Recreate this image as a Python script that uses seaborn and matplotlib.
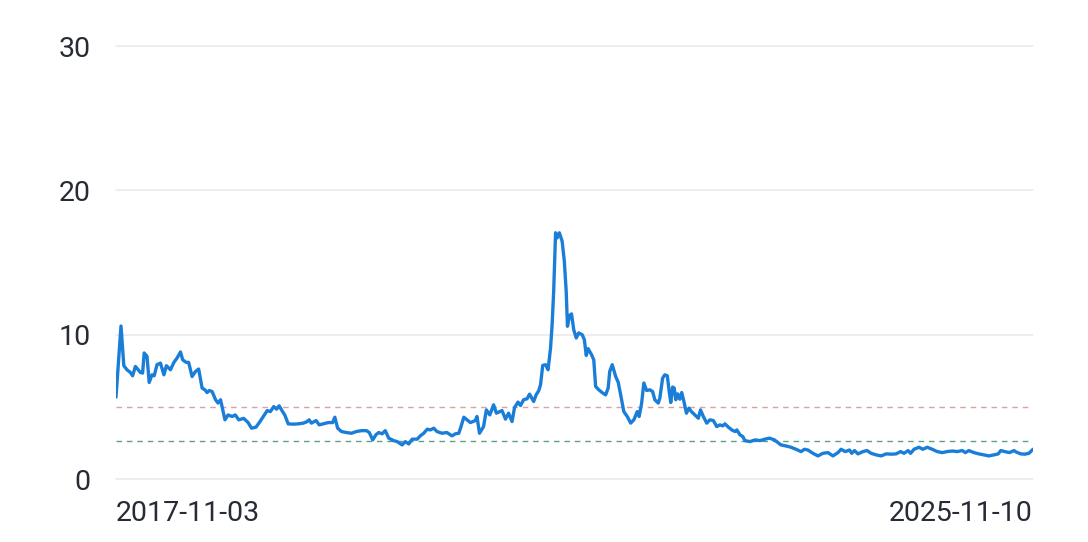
import numpy as np
import pandas as pd
import matplotlib
matplotlib.use("Agg")
import matplotlib.pyplot as plt
import seaborn as sns

start_date = "2017-11-03"
end_date = "2025-11-10"

# elapsed days since start_date
days = [0, 16, 25, 35, 46, 53, 62, 78, 85, 90, 99, 106, 115, 122, 131, 142, 153, 161, 174, 185,
        195, 206, 213, 224, 232, 243, 254, 264, 275, 284, 291, 298, 307, 318, 326, 334, 348, 358, 371, 381,
        392, 408, 422, 433, 447, 460, 472, 483, 493, 504, 513, 521, 532, 539, 550, 566, 582, 598, 609, 617,
        624, 639, 649, 662, 678, 692, 699, 708, 720, 736, 752, 768, 784, 800, 809, 820, 830, 839, 850, 860,
        871, 887, 898, 914, 924, 935, 946, 962, 972, 983, 994, 1004, 1015, 1025, 1041, 1057, 1073, 1084, 1095, 1102,
        1111, 1121, 1132, 1148, 1153, 1161, 1174, 1183, 1194, 1206, 1215, 1233, 1244, 1254, 1265, 1273, 1284, 1292, 1302, 1313,
        1321, 1334, 1342, 1350, 1356, 1363, 1372, 1380, 1388, 1393, 1398, 1404, 1409, 1416, 1425, 1432, 1438, 1442, 1449, 1455,
        1462, 1470, 1478, 1489, 1496, 1502, 1508, 1519, 1526, 1532, 1542, 1555, 1564, 1572, 1577, 1585, 1596, 1604, 1612, 1622,
        1633, 1644, 1654, 1665, 1671, 1679, 1686, 1695, 1705, 1714, 1721, 1732, 1737, 1746, 1753, 1761, 1767, 1772, 1778, 1783,
        1788, 1794, 1801, 1807, 1814, 1822, 1830, 1838, 1849, 1860, 1867, 1876, 1887, 1897, 1908, 1919, 1929, 1938, 1945, 1956,
        1967, 1977, 1983, 1993, 2002, 2009, 2025, 2041, 2057, 2073, 2087, 2103, 2124, 2140, 2156, 2172, 2188, 2199, 2210, 2226,
        2242, 2258, 2274, 2290, 2306, 2316, 2329, 2343, 2350, 2359, 2370, 2386, 2399, 2412, 2428, 2444, 2460, 2476, 2492, 2506,
        2517, 2530, 2538, 2549, 2565, 2577, 2591, 2607, 2623, 2639, 2655, 2671, 2687, 2703, 2713, 2724, 2740, 2756, 2772, 2788,
        2804, 2818, 2826, 2839, 2854, 2868, 2876, 2890, 2903, 2916, 2929]

values = [5.67, 10.6, 7.85, 7.57, 7.38, 7.15, 7.8, 7.38, 7.34, 8.73, 8.5, 6.69, 7.22, 7.15, 7.92, 8.03, 7.22, 7.85, 7.57, 8.08,
          8.38, 8.8, 8.26, 8.08, 8.08, 7.1, 7.45, 7.62, 6.3, 6.18, 5.99, 6.13, 6.06, 5.49, 5.26, 5.49, 4.1, 4.44, 4.33, 4.44,
          4.1, 4.2, 3.91, 3.52, 3.59, 3.98, 4.38, 4.74, 4.67, 5.02, 4.84, 5.07, 4.67, 4.44, 3.82, 3.8, 3.82, 3.87, 3.96, 4.1,
          3.87, 4.05, 3.75, 3.82, 3.91, 3.91, 4.28, 3.52, 3.29, 3.22, 3.17, 3.29, 3.35, 3.35, 3.22, 2.71, 3.06, 3.22, 3.13, 3.35,
          2.83, 2.66, 2.59, 2.36, 2.59, 2.43, 2.76, 2.76, 2.99, 3.17, 3.45, 3.4, 3.52, 3.29, 3.17, 3.22, 2.99, 3.13, 3.17, 3.63,
          4.28, 4.1, 3.91, 4.05, 4.33, 3.17, 3.63, 4.79, 4.44, 5.14, 4.56, 4.74, 4.15, 4.56, 3.98, 4.95, 5.33, 5.09, 5.49, 5.56,
          5.88, 5.37, 5.83, 6.11, 6.53, 7.87, 7.92, 7.57, 9.08, 10.69, 13.0, 17.06, 16.7, 17.06, 16.48, 15.09, 13.0, 10.58, 11.34, 11.44,
          10.35, 9.77, 10.12, 10.0, 9.65, 8.56, 9.03, 8.61, 8.26, 6.41, 6.18, 5.95, 5.83, 6.3, 7.45, 7.92, 7.1, 6.71, 5.83, 4.67,
          4.33, 3.87, 4.1, 4.67, 4.33, 5.26, 6.65, 6.13, 6.18, 6.06, 5.49, 5.26, 5.6, 6.99, 7.22, 7.15, 6.06, 5.3, 6.37, 6.3,
          5.49, 5.9, 5.53, 5.99, 5.37, 4.56, 4.91, 4.67, 4.44, 4.21, 4.79, 4.33, 3.87, 4.1, 4.05, 3.63, 3.75, 3.68, 3.82, 3.59,
          3.4, 3.29, 3.4, 3.06, 2.94, 2.66, 2.59, 2.71, 2.66, 2.76, 2.83, 2.71, 2.36, 2.29, 2.2, 2.06, 1.9, 2.06, 2.01, 1.78,
          1.6, 1.78, 1.83, 1.6, 1.83, 2.06, 1.9, 2.01, 1.78, 1.97, 1.74, 1.9, 1.97, 1.78, 1.67, 1.6, 1.74, 1.72, 1.74, 1.9,
          1.78, 1.97, 1.78, 2.06, 2.2, 2.06, 2.2, 2.06, 1.9, 1.83, 1.9, 1.94, 1.9, 1.97, 1.83, 1.97, 1.83, 1.74, 1.67, 1.6,
          1.67, 1.74, 1.97, 1.9, 1.83, 1.97, 1.86, 1.74, 1.72, 1.78, 2.06]

upper_ref = 5.0
lower_ref = 2.65
y_ticks = [0, 10, 20, 30]
x_tick_labels = [start_date, end_date]

df = pd.DataFrame({
    "date": pd.Timestamp(start_date) + pd.to_timedelta(days, unit="D"),
    "value": values,
})

sns.set_theme(style="white")
plt.rcParams["font.family"] = ["Roboto", "DejaVu Sans"]

fig = plt.figure(figsize=(10.88, 5.42), dpi=100)
ax = fig.add_axes([116 / 1088, 1 - 479 / 542, (1033 - 116) / 1088, (479 - 46) / 542])

ax.set_ylim(0, 30)
ax.set_xlim(pd.Timestamp(start_date), pd.Timestamp(end_date))
ax.set_yticks(y_ticks)
for yt in y_ticks:
    ax.axhline(yt, color="#e8e8e8", linewidth=1.1, zorder=0, clip_on=False)

ax.axhline(upper_ref, color="#d9a3a3", linewidth=1.0, dashes=(4, 3.5), zorder=1)
ax.axhline(lower_ref, color="#5e9f86", linewidth=1.0, dashes=(4, 3.5), zorder=1)

sns.lineplot(data=df, x="date", y="value", ax=ax, color="#1a7ed8", linewidth=2.4, zorder=3)

for s in ax.spines.values():
    s.set_visible(False)

ax.set_xticks([pd.Timestamp(t) for t in x_tick_labels])
ax.set_xticklabels(x_tick_labels)
labels = ax.get_xticklabels()
labels[0].set_horizontalalignment("left")
labels[1].set_horizontalalignment("right")

ax.tick_params(axis="y", length=0, pad=18, labelsize=20.5, labelcolor="#262b36")
ax.tick_params(axis="x", length=0, pad=15, labelsize=20.5, labelcolor="#262b36")
ax.set_xlabel("")
ax.set_ylabel("")

fig.savefig("out.png", dpi=100, facecolor="white")
